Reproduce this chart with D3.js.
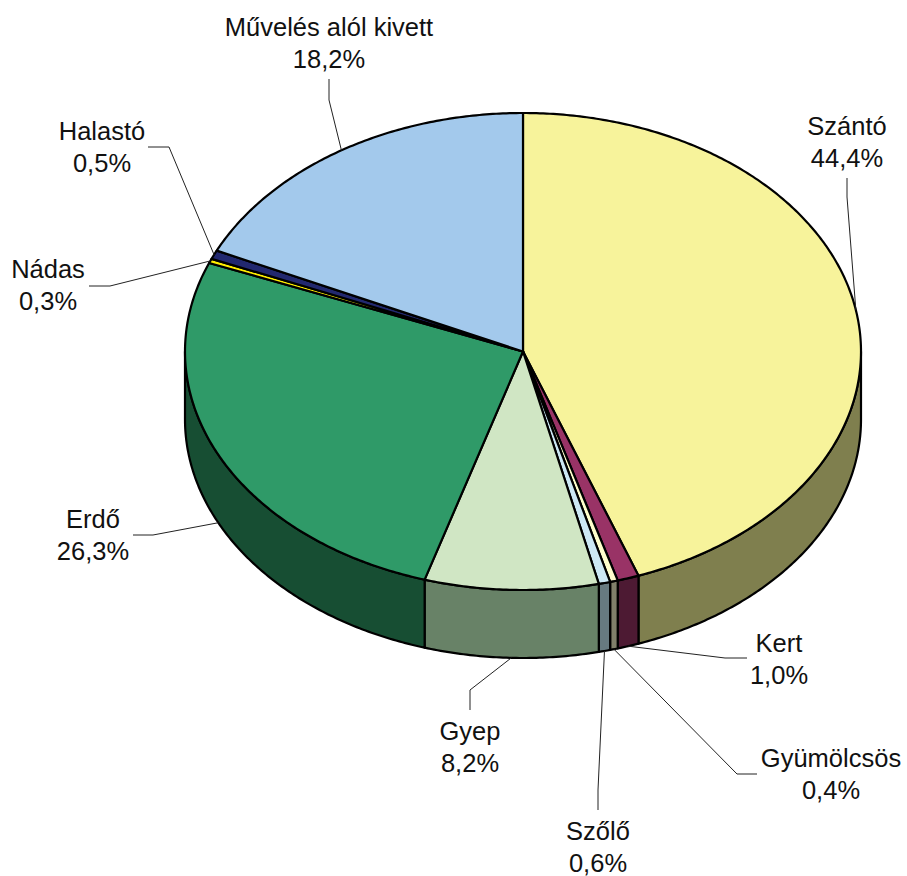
<!DOCTYPE html>
<html><head><meta charset="utf-8">
<script src="https://cdn.jsdelivr.net/npm/d3@7"></script>
<style>html,body{margin:0;background:#fff}svg{display:block}text{font-family:"Liberation Sans",Arial,sans-serif;font-size:25.5px;fill:#111}</style>
</head><body><div id="c"></div>
<script>
const categories=["Szántó","Kert","Gyümölcsös","Szőlő","Gyep","Erdő","Nádas","Halastó","Művelés alól kivett"];
const shareLabels=["44,4%","1,0%","0,4%","0,6%","8,2%","26,3%","0,3%","0,5%","18,2%"];
const shares=[44.45,1.03,0.37,0.55,8.3,26.35,0.3,0.6,18.05];
const topColors=["#F7F39B","#993366","#FFFFCC","#CCE8F4","#D0E6C4","#2F9A68","#FFEE00","#22286F","#A3C9EC"];
const sideColors=["#7F7F4E","#4D1A33","#80806A","#677A80","#688267","#174E33","#807800","#111438","#52657A"];
const labelX=[847,779,831,598,470,93,48,102,329];
const labelBase=[135,652,767,840,740,528,278,140,36];
const elbowX=[847,725,737,598,470,153,110,169,329];
const elbowY=[197,658,774,790,690,535,286,147,100];
const endX=[847,747,757,598,470,133,89,148,329];
const endY=[178,658,774,810,710,535,286,147,79];
const onBottom=[false,true,true,true,true,true,false,false,false];

const W=907,H=876,cx=523,cy=351.5,rx=338,ry=238.5,depth=68;
const svg=d3.select("#c").append("svg").attr("width",W).attr("height",H);
const sx=d3.scaleLinear().domain([-1,1]).range([cx-rx,cx+rx]);
const sy=d3.scaleLinear().domain([-1,1]).range([cy-ry,cy+ry]);
const pt=(a,dy=0)=>[sx(Math.sin(a)),sy(-Math.cos(a))+dy];
const arcs=d3.pie().sort(null).value(d=>d).startAngle(0).endAngle(2*Math.PI)(shares);
const line=d3.line();
const samples=(a0,a1,dy)=>{const n=Math.max(2,Math.ceil((a1-a0)/0.01));return d3.range(n+1).map(i=>pt(a0+(a1-a0)*i/n,dy));};

// outer wall (front half only)
const g=svg.append("g").attr("stroke","#000").attr("stroke-width",2.2).attr("stroke-linejoin","round");
arcs.forEach((d,i)=>{
  const a0=Math.max(d.startAngle,Math.PI/2),a1=Math.min(d.endAngle,3*Math.PI/2);
  if(a1<=a0)return;
  const pts=samples(a0,a1,0).concat(samples(a0,a1,depth).reverse());
  g.append("path").attr("d",line(pts)+"Z").attr("fill",sideColors[i]);
});
// top face
arcs.forEach((d,i)=>{
  const pts=[[cx,cy]].concat(samples(d.startAngle,d.endAngle,0));
  g.append("path").attr("d",line(pts)+"Z").attr("fill",topColors[i]);
});
// leader lines
const lg=svg.append("g").attr("fill","none").attr("stroke","#222").attr("stroke-width",1);
arcs.forEach((d,i)=>{
  const mid=(d.startAngle+d.endAngle)/2;
  lg.append("path").attr("d",line([pt(mid,onBottom[i]?depth:0),[elbowX[i],elbowY[i]],[endX[i],endY[i]]]));
});
// labels
const tg=svg.append("g").attr("text-anchor","middle");
categories.forEach((c,i)=>{
  tg.append("text").attr("x",labelX[i]).attr("y",labelBase[i]).text(c);
  tg.append("text").attr("x",labelX[i]).attr("y",labelBase[i]+31.7).text(shareLabels[i]);
});
</script></body></html>
